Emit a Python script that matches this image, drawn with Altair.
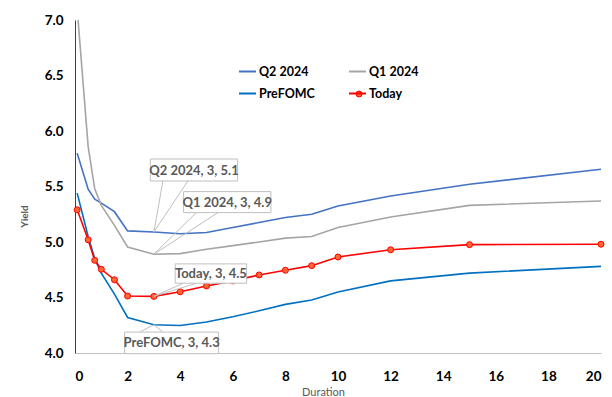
import altair as alt
import pandas as pd

# Maturities (years) shared by every curve
durations = [0.083, 0.5, 0.75, 1, 1.5, 2, 3, 4, 5, 6, 7, 8, 9, 10, 12, 15, 20]

q2_2024 = [5.80, 5.475, 5.385, 5.35, 5.273, 5.10, 5.09, 5.075, 5.085, 5.13, 5.175,
           5.22, 5.25, 5.325, 5.415, 5.52, 5.655]
q1_2024 = [7.10, 5.86, 5.48, 5.33, 5.15, 4.955, 4.89, 4.895, 4.935, 4.967, 5.0,
           5.035, 5.05, 5.13, 5.225, 5.33, 5.37]
pre_fomc = [5.44, 5.05, 4.85, 4.72, 4.53, 4.32, 4.255, 4.248, 4.28, 4.327, 4.38,
            4.438, 4.477, 4.55, 4.65, 4.72, 4.78]
today = [5.29, 5.02, 4.835, 4.754, 4.66, 4.513, 4.51, 4.552, 4.604, 4.65, 4.703,
         4.745, 4.787, 4.865, 4.93, 4.976, 4.98]

series_names = ["Q2 2024", "Q1 2024", "PreFOMC", "Today"]
series_values = [q2_2024, q1_2024, pre_fomc, today]
series_colors = ["#4472C4", "#A5A5A5", "#0070C0", "#FF0000"]

# Callout duration for each series
callout_duration = 3

FONT = "Lato"
TEXT_GREY = "#595959"

rows = []
for name, vals in zip(series_names, series_values):
    for d, v in zip(durations, vals):
        rows.append({"Duration": d, "Yield": v, "series": name})
df = pd.DataFrame(rows)

x_scale = alt.Scale(domain=[0, 20], nice=False, zero=False)
y_scale = alt.Scale(domain=[4, 7], nice=False, zero=False)
color_scale = alt.Scale(domain=series_names, range=series_colors)

x_enc = alt.X("Duration:Q", scale=x_scale,
              axis=alt.Axis(title="Duration", values=list(range(0, 21, 2)),
                            grid=False, ticks=False, tickSize=0,
                            domainColor="#BFBFBF", domainWidth=1,
                            labelFont=FONT, labelFontSize=13.5, labelFontWeight="bold",
                            labelColor="#000000", labelPadding=16,
                            titleFont=FONT, titleFontSize=11, titleFontWeight="normal",
                            titleColor=TEXT_GREY, titleX=248, titleY=33,
                            titleBaseline="top"))
y_enc = alt.Y("Yield:Q", scale=y_scale,
              axis=alt.Axis(title="Yield", values=[4.0, 4.5, 5.0, 5.5, 6.0, 6.5, 7.0],
                            format=".1f", grid=False, ticks=False, tickSize=0,
                            domainColor="#404040", domainWidth=1,
                            labelFont=FONT, labelFontSize=13.5, labelFontWeight="bold",
                            labelColor="#000000", labelPadding=12,
                            titleFont=FONT, titleFontSize=10, titleFontWeight="bold",
                            titleColor=TEXT_GREY, titleX=-46, titleY=196))

base = alt.Chart(df)

lines = base.mark_line(strokeWidth=1.6, clip=True).encode(
    x=x_enc,
    y=y_enc,
    color=alt.Color("series:N", scale=color_scale, sort=series_names,
                    legend=alt.Legend(title=None, orient="none", columns=2,
                                      direction="horizontal",
                                      legendX=163, legendY=42,
                                      symbolType="stroke", symbolSize=289,
                                      symbolStrokeWidth=2, labelOffset=2,
                                      columnPadding=30, rowPadding=6,
                                      labelFont=FONT, labelFontSize=12.5,
                                      labelFontWeight="bold", labelColor="#000000")),
    order=alt.Order("Duration:Q"),
)

points = alt.Chart(df[df["series"] == "Today"]).mark_point(
    filled=True, shape="circle", size=36, fill="#FF6633", stroke="#FF0000",
    strokeWidth=1, opacity=1,
).encode(x="Duration:Q", y="Yield:Q")

# Marker glyph on the "Today" legend entry
legend_marker = alt.Chart(pd.DataFrame({"k": [0]})).mark_point(
    filled=True, shape="circle", size=36, fill="#FF6633", stroke="#FF0000",
    strokeWidth=1, opacity=1,
).encode(x=alt.value(284), y=alt.value(74))

# Callout geometry (pixel offsets from the labelled point):
# box left, right, top, bottom, and the two leader-line end points
callout_style = {
    "Q2 2024": dict(box=(-3.6, 83.7, -73, -51), lead=((9, -51), (34, -51))),
    "Q1 2024": dict(box=(29.7, 117, -62.6, -41.6), lead=((42.4, -41.6), (64, -41.6))),
    "Today": dict(box=(21.3, 92.7, -32.5, -13.2), lead=((29.3, -13.2), (42.7, -13.2))),
    "PreFOMC": dict(box=(-29.3, 64.7, 7.4, 29), lead=((-14.3, 7.4), (9, 7.4))),
}

callout_layers = []
for name, vals in zip(series_names, series_values):
    v = vals[durations.index(callout_duration)]
    label = f"{name}, {callout_duration}, {v:.1f}"
    pt = pd.DataFrame({"Duration": [callout_duration], "Yield": [v], "label": [label]})
    st = callout_style[name]
    l, r, t, b = st["box"]
    c = alt.Chart(pt)
    for (ex, ey) in st["lead"]:
        callout_layers.append(
            c.mark_rule(color="#BFBFBF", strokeWidth=1, x2Offset=ex, y2Offset=ey).encode(
                x="Duration:Q", y="Yield:Q", x2="Duration:Q", y2="Yield:Q"))
    callout_layers.append(
        c.mark_rect(fill="white", stroke="#BFBFBF", strokeWidth=1,
                    xOffset=l, x2Offset=r, yOffset=t, y2Offset=b).encode(
            x="Duration:Q", y="Yield:Q", x2="Duration:Q", y2="Yield:Q"))
    callout_layers.append(
        c.mark_text(font=FONT, fontSize=13, fontWeight="bold", color=TEXT_GREY,
                    align="center", baseline="middle",
                    dx=(l + r) / 2, dy=(t + b) / 2 + 0.5).encode(
            x="Duration:Q", y="Yield:Q", text="label:N"))

chart = alt.layer(lines, points, legend_marker, *callout_layers).properties(
    width=526, height=333,
    autosize=alt.AutoSizeParams(type="none"),
    padding={"left": 75, "top": 20, "right": 11, "bottom": 44},
    background="white",
).configure_view(stroke=None)

chart.save("out.html", embed_options={"renderer": "svg", "actions": False})
